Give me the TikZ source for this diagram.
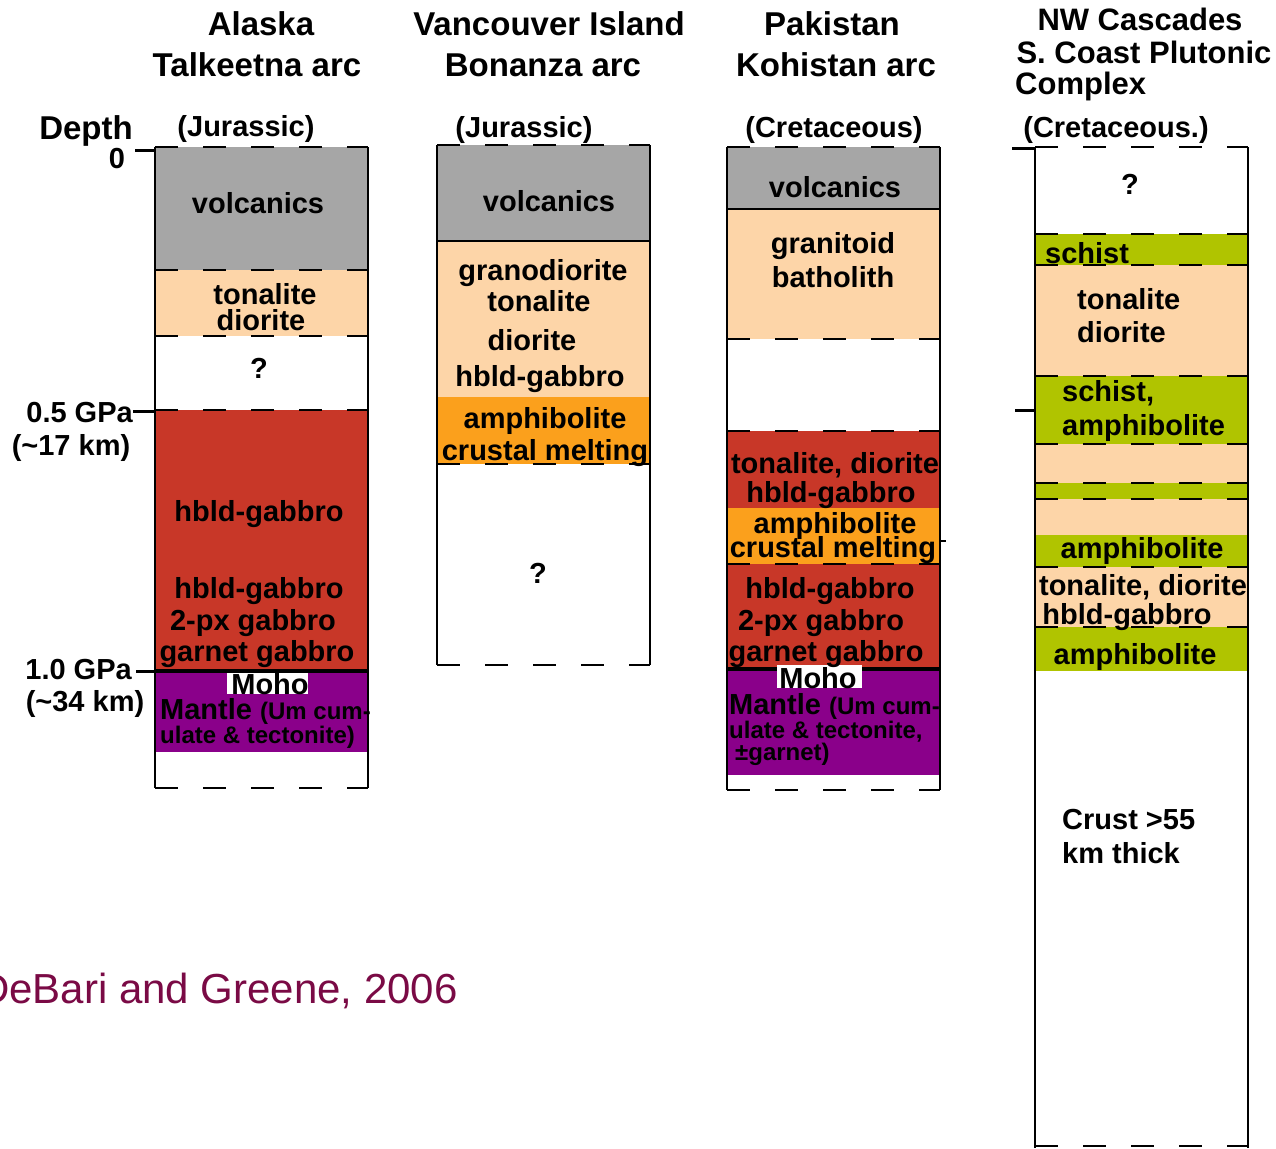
\documentclass[tikz,border=0pt]{standalone}
\usepackage{fontspec}
\setmainfont{Liberation Sans}
\definecolor{vgray}{HTML}{A6A6A6}
\definecolor{peach}{HTML}{FDD5A8}
\definecolor{gabred}{HTML}{C83728}
\definecolor{amphor}{HTML}{FBA01C}
\definecolor{mantle}{HTML}{8A008A}
\definecolor{schgreen}{HTML}{B0C400}
\definecolor{citecol}{HTML}{7A0A45}
\begin{document}
\begin{tikzpicture}[x=1pt,y=-1pt,
  lbl/.style={font=\fontsize{29}{31}\selectfont\bfseries, inner sep=0pt, text height=21pt, text depth=0pt},
  small/.style={font=\fontsize{24}{26}\selectfont\bfseries, inner sep=0pt},
  hdr/.style={font=\fontsize{33}{35}\selectfont\bfseries, inner sep=0pt, text height=24pt, text depth=0pt},
  hdrnw/.style={font=\fontsize{31}{33}\selectfont\bfseries, inner sep=0pt, text height=22.6pt, text depth=0pt},
  border/.style={line width=2pt},
  bound/.style={line width=2.6pt, dash pattern=on 23pt off 25pt},
  solidb/.style={line width=2pt},
  moholine/.style={line width=4pt},
  tick/.style={line width=3pt}]
\clip (0,0) rectangle (1276,1148);
\fill[white] (0,0) rectangle (1276,1148);

% ---------------- headers
\node[hdr] (h1a) at (261,24) {Alaska};
\node[hdr] (h1b) at (257,64) {Talkeetna arc};
\node[hdr] (h2a) at (549,24) {Vancouver Island};
\node[hdr] (h2b) at (543,64) {Bonanza arc};
\node[hdr] (h3a) at (832,24) {Pakistan};
\node[hdr] (h3b) at (836,64) {Kohistan arc};
\node[hdrnw] (h4a) at (1140,19) {NW Cascades};
\node[hdrnw] (h4b) at (1144,52) {S. Coast Plutonic};
\node[hdrnw, anchor=west] (h4c) at (1015,83) {Complex};
\node[lbl] (e1) at (246,126) {(Jurassic)};
\node[lbl] (e2) at (524,127) {(Jurassic)};
\node[lbl] (e3) at (834,127) {(Cretaceous)};
\node[lbl] (e4) at (1116,127) {(Cretaceous.)};

% ---------------- depth axis
\node[font=\fontsize{33}{35}\selectfont\bfseries, inner sep=0pt, text height=24pt, text depth=0pt] (depth) at (86,127) {Depth};
\node[lbl] (d0) at (117,158) {0};
\node[lbl, anchor=east] (d05) at (133,412) {0.5 GPa};
\node[lbl] (d17) at (71,445) {(\char126 17 km)};
\node[lbl, anchor=east] (d10) at (132,669) {1.0 GPa};
\node[lbl] (d34) at (85,701) {(\char126 34 km)};
\draw[tick] (135,150) -- (155,150);
\draw[tick] (133,411) -- (155,411);
\draw[tick] (136,671) -- (155,671);

% ---------------- column 1: Alaska
\fill[vgray] (155,147) rectangle (368,270);
\fill[peach] (155,270) rectangle (368,336);
\fill[gabred] (155,410) rectangle (368,671);
\fill[mantle] (155,671) rectangle (368,752);
\foreach \yy in {147,270,336,410,788} \draw[bound] (155,\yy) -- (368,\yy);
\draw[moholine] (155,671) -- (368,671);
\draw[border] (155,147) -- (155,788);
\draw[border] (368,147) -- (368,788);
\fill[white] (227,673) rectangle (308,694);
\node[lbl] (c1v) at (258,203) {volcanics};
\node[lbl] (c1t) at (265,294) {tonalite};
\node[lbl] (c1d) at (261,320) {diorite};
\node[lbl] (c1q) at (259,368) {?};
\node[lbl] (c1h) at (259,511) {hbld-gabbro};
\node[lbl] (c1h2) at (259,588) {hbld-gabbro};
\node[lbl] (c1p) at (253,620) {2-px gabbro};
\node[lbl] (c1g) at (257,651) {garnet gabbro};
\node[lbl] (c1m) at (270,684) {Moho};
\node[lbl, anchor=base west] (c1ma) at (160,719) {Mantle {\fontsize{24}{26}\selectfont (Um cum-}};
\node[small, anchor=base west] (c1mb) at (160,743) {ulate \& tectonite)};

% ---------------- column 2: Vancouver Island
\fill[vgray] (437,145) rectangle (650,241);
\fill[peach] (437,241) rectangle (650,397);
\fill[amphor] (437,397) rectangle (650,464);
\foreach \yy in {145,464,665} \draw[bound] (437,\yy) -- (650,\yy);
\draw[solidb] (437,241) -- (650,241);
\draw[border] (437,145) -- (437,665);
\draw[border] (650,145) -- (650,665);
\node[lbl] (c2v) at (549,201) {volcanics};
\node[lbl] (c2g) at (543,270) {granodiorite};
\node[lbl] (c2t) at (539,301) {tonalite};
\node[lbl] (c2d) at (532,340) {diorite};
\node[lbl] (c2h) at (540,376) {hbld-gabbro};
\node[lbl] (c2a) at (545,418) {amphibolite};
\node[lbl] (c2c) at (545,450) {crustal melting};
\node[lbl] (c2q) at (538,573) {?};

% ---------------- column 3: Pakistan
\fill[vgray] (727,147) rectangle (940,209);
\fill[peach] (727,209) rectangle (940,339);
\fill[gabred] (727,431) rectangle (940,508);
\fill[amphor] (727,508) rectangle (940,564);
\fill[gabred] (727,564) rectangle (940,669);
\fill[mantle] (727,669) rectangle (940,775);
\foreach \yy in {147,339,431,564,790} \draw[bound] (727,\yy) -- (940,\yy);
\draw[solidb] (727,209) -- (940,209);
\draw[moholine] (727,669) -- (940,669);
\draw[border] (727,147) -- (727,790);
\draw[border] (940,147) -- (940,790);
\draw[solidb] (940,541) -- (946,541);
\fill[white] (777,665) rectangle (862,688);
\node[lbl] (c3v) at (835,187) {volcanics};
\node[lbl] (c3g) at (833,243) {granitoid};
\node[lbl] (c3b) at (833,277) {batholith};
\node[lbl] (c3t) at (835,463) {tonalite, diorite};
\node[lbl] (c3h) at (831,492) {hbld-gabbro};
\node[lbl] (c3a) at (835,523) {amphibolite};
\node[lbl] (c3c) at (833,547) {crustal melting};
\node[lbl] (c3h2) at (830,588) {hbld-gabbro};
\node[lbl] (c3p) at (821,620) {2-px gabbro};
\node[lbl] (c3gg) at (826,651) {garnet gabbro};
\node[lbl] (c3m) at (818,678) {Moho};
\node[lbl, anchor=base west] (c3ma) at (729,714) {Mantle {\fontsize{24}{26}\selectfont (Um cum-}};
\node[small, anchor=base west] (c3mb) at (729,738) {ulate \& tectonite,};
\node[small, anchor=base west] (c3mc) at (735,760) {±garnet)};

% ---------------- column 4: NW Cascades
\fill[schgreen] (1035,234) rectangle (1248,265);
\fill[peach] (1035,265) rectangle (1248,376);
\fill[schgreen] (1035,376) rectangle (1248,444);
\fill[peach] (1035,444) rectangle (1248,483);
\fill[schgreen] (1035,483) rectangle (1248,499);
\fill[peach] (1035,499) rectangle (1248,535);
\fill[schgreen] (1035,535) rectangle (1248,567);
\fill[peach] (1035,567) rectangle (1248,627);
\fill[schgreen] (1035,627) rectangle (1248,671);
\foreach \yy in {147,234,265,376,444,483,499,567,627,1146} \draw[bound] (1035,\yy) -- (1248,\yy);
\draw[border] (1035,147) -- (1035,1148);
\draw[border] (1248,147) -- (1248,1148);
\draw[tick] (1012,148) -- (1035,148);
\draw[tick] (1015,410) -- (1035,410);
\node[lbl] (c4q) at (1130,184) {?};
\node[lbl, anchor=west] (c4s) at (1045,253) {schist};
\node[lbl, anchor=west] (c4t) at (1077,299) {tonalite};
\node[lbl, anchor=west] (c4d) at (1077,332) {diorite};
\node[lbl, anchor=west] (c4s2) at (1062,391) {schist,};
\node[lbl, anchor=west] (c4a) at (1062,425) {amphibolite};
\node[lbl] (c4a2) at (1142,548) {amphibolite};
\node[lbl] (c4t2) at (1143,585) {tonalite, diorite};
\node[lbl] (c4h) at (1127,614) {hbld-gabbro};
\node[lbl] (c4a3) at (1135,654) {amphibolite};
\node[lbl, anchor=west] (c4c) at (1062,819) {Crust >55};
\node[lbl, anchor=west] (c4k) at (1062,853) {km thick};

% ---------------- citation
\node[font=\fontsize{42}{44}\selectfont, text=citecol, inner sep=0pt, anchor=east] (cite) at (458,991) {DeBari and Greene, 2006};
\end{tikzpicture}
\end{document}
